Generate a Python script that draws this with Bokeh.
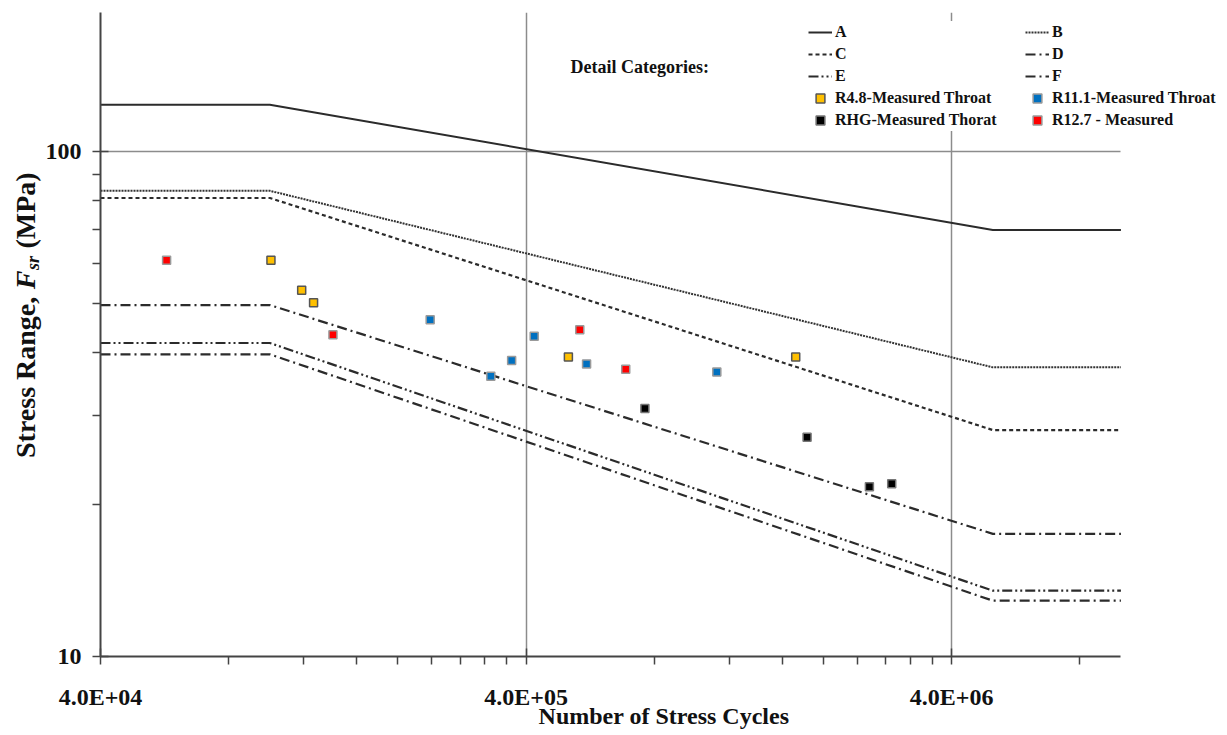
import math
from bokeh.plotting import figure
from bokeh.layouts import row
from bokeh.models import (Range1d, FixedTicker, CustomJSTickFormatter, Legend, LegendItem, Label)
from bokeh.core.properties import value
from bokeh.embed import file_html
from bokeh.resources import INLINE

# ---- data ----
curve_cycles = [4.0e4, 1.0e5, 5.0e6, 1.0e7]
cat_A = [124.0, 124.0, 70.0, 70.0]
cat_B = [83.7, 83.7, 37.4, 37.4]
cat_C = [81.0, 81.0, 28.1, 28.1]
cat_D = [49.7, 49.7, 17.5, 17.5]
cat_E = [41.8, 41.8, 13.5, 13.5]
cat_F = [39.7, 39.7, 12.9, 12.9]

r48_cycles = [1.006e5, 1.188e5, 1.267e5, 5.03e5, 1.721e6]
r48_stress = [61.0, 53.2, 50.2, 39.2, 39.2]

r111_cycles = [2.381e5, 3.306e5, 3.70e5, 4.18e5, 5.55e5, 1.123e6]
r111_stress = [46.5, 35.9, 38.6, 43.1, 38.0, 36.6]

rhg_cycles = [7.61e5, 1.83e6, 2.564e6, 2.893e6]
rhg_stress = [31.0, 27.2, 21.7, 22.0]

r127_cycles = [5.72e4, 1.407e5, 5.35e5, 6.86e5]
r127_stress = [61.0, 43.4, 44.4, 37.1]

x_major_ticks = [4.0e4, 4.0e5, 4.0e6]
y_major_ticks = [10, 100]
x_grid_ticks = [4.0e5, 4.0e6]
y_grid_ticks = [100]
x_limits = (4.0e4, 1.0e7)      # extent of the x axis
x_view_end = 1.78e7            # frame runs on to the right, under the legend
y_limits = (10, 188.8)

x_minor_ticks = [b * k for b in x_major_ticks for k in range(2, 10) if b * k <= x_limits[1]]
y_minor_ticks = [10 * k for k in range(2, 10)]

FONT = "Liberation Serif"
INK = "#111111"

H = 735
TOP, BOTTOM = 12, 79
LAB_W = 42
p = figure(width=1227 - LAB_W, height=H, x_axis_type="log", y_axis_type="log",
           x_range=Range1d(x_limits[0], x_view_end), y_range=Range1d(*y_limits),
           output_backend="svg", toolbar_location=None,
           min_border_left=96 - LAB_W, min_border_right=0, min_border_top=TOP, min_border_bottom=BOTTOM)
p.outline_line_color = None
p.background_fill_color = "white"

# grid
p.xgrid.ticker = FixedTicker(ticks=x_grid_ticks)
p.ygrid.ticker = FixedTicker(ticks=y_grid_ticks)
for g in (p.xgrid, p.ygrid):
    g.grid_line_color = "#8c8c8c"
    g.grid_line_width = 1.5
try:
    p.ygrid.cross_bounds = x_limits
except Exception:
    p.ygrid.grid_line_color = None
    p.segment(x0=[x_limits[0]] * len(y_grid_ticks), y0=y_grid_ticks,
              x1=[x_limits[1]] * len(y_grid_ticks), y1=y_grid_ticks,
              line_color="#8c8c8c", line_width=1.5)

# axes
xa = p.xaxis[0]
ya = p.yaxis[0]
xa.bounds = x_limits
xa.ticker = FixedTicker(ticks=x_major_ticks, minor_ticks=x_minor_ticks)
ya.ticker = FixedTicker(ticks=y_major_ticks, minor_ticks=y_minor_ticks)
xa.formatter = CustomJSTickFormatter(code="return tick.toExponential(1).replace('e+', 'E+0');")
ya.formatter = CustomJSTickFormatter(code="return tick.toFixed(0);")
for ax in (xa, ya):
    ax.axis_line_color = "#444444"
    ax.axis_line_width = 2
    ax.major_tick_line_color = "#444444"
    ax.minor_tick_line_color = "#444444"
    ax.major_tick_line_width = 1.5
    ax.minor_tick_line_width = 1.5
    ax.major_tick_in = 8
    ax.major_tick_out = 8
    ax.minor_tick_in = 0
    ax.minor_tick_out = 8
    ax.major_label_text_font = FONT
    ax.major_label_text_font_style = "bold"
    ax.major_label_text_font_size = "24px"
    ax.major_label_text_color = INK

xa.major_label_standoff = 19
xa.axis_label = "Number of Stress Cycles"
xa.axis_label_text_font = FONT
xa.axis_label_text_font_style = "bold"
xa.axis_label_text_font_size = "24px"
xa.axis_label_text_color = INK
xa.axis_label_standoff = -10
ya.major_label_standoff = 11

# curves
line_color = "#2b2b2b"
rA = p.line(curve_cycles, cat_A, line_color=line_color, line_width=2)
rB = p.line(curve_cycles, cat_B, line_color="#333333", line_width=2, line_dash="2 1")
rC = p.line(curve_cycles, cat_C, line_color=line_color, line_width=2.2, line_dash="4 3")
rD = p.line(curve_cycles, cat_D, line_color=line_color, line_width=2.2, line_dash="10 4 2 4")
rE = p.line(curve_cycles, cat_E, line_color=line_color, line_width=2.2, line_dash="10 3 2 3 2 3")
rF = p.line(curve_cycles, cat_F, line_color=line_color, line_width=2.2, line_dash="10 4 2 4")

# measured points
s48 = p.scatter(r48_cycles, r48_stress, marker="square", size=8, fill_color="#FFC000", line_color="#555555", line_width=1.5)
s111 = p.scatter(r111_cycles, r111_stress, marker="square", size=8, fill_color="#0070C0", line_color="#9a9a9a", line_width=1.5)
shg = p.scatter(rhg_cycles, rhg_stress, marker="square", size=8, fill_color="#000000", line_color="#777777", line_width=1.5)
s127 = p.scatter(r127_cycles, r127_stress, marker="square", size=8, fill_color="#FF0000", line_color="#9a9a9a", line_width=1.5)

legend = Legend(items=[
    LegendItem(label="A", renderers=[rA]),
    LegendItem(label="B", renderers=[rB]),
    LegendItem(label="C", renderers=[rC]),
    LegendItem(label="D", renderers=[rD]),
    LegendItem(label="E", renderers=[rE]),
    LegendItem(label="F", renderers=[rF]),
    LegendItem(label="R4.8-Measured Throat", renderers=[s48]),
    LegendItem(label="R11.1-Measured Throat", renderers=[s111]),
    LegendItem(label="RHG-Measured Thorat", renderers=[shg]),
    LegendItem(label="R12.7 - Measured", renderers=[s127]),
], orientation="horizontal", ncols=2, location=(708, 525))
legend.padding = 0
legend.margin = 0
legend.spacing = 0
legend.glyph_width = 24
legend.glyph_height = 22
legend.label_height = 22
legend.label_width = 190
legend.label_standoff = 3
legend.border_line_color = None
legend.background_fill_color = "white"
legend.background_fill_alpha = 1.0
legend.label_text_font = FONT
legend.label_text_font_style = "bold"
legend.label_text_font_size = "16px"
legend.label_text_color = INK
p.add_layout(legend)

p.add_layout(Label(x=470, y=590, x_units="screen", y_units="screen", text="Detail Categories:",
                   text_font=FONT, text_font_style="bold", text_font_size="18px",
                   text_color=INK, text_align="left", text_baseline="middle"))

# ---- y-axis title strip (rotated, with italic subscript) ----
# frame of this strip matches the main frame, so y here = page pixels counted from the bottom
lab = figure(width=LAB_W, height=H, x_range=Range1d(0, LAB_W), y_range=Range1d(BOTTOM, H - TOP),
             output_backend="svg", toolbar_location=None,
             x_axis_location=None, y_axis_location=None,
             min_border_left=0, min_border_right=0, min_border_top=TOP, min_border_bottom=BOTTOM)
lab.outline_line_color = None
lab.xgrid.visible = False
lab.ygrid.visible = False
ylab_parts = [
    ("Stress Range,", 277.5, "bold", "28px", 25),
    ("F", 446.3, "bold italic", "28px", 25),
    ("sr", 465.5, "bold italic", "18px", 32),
    ("(MPa)", 487.0, "bold", "28px", 25),
]
for txt, yy, style, size, xx in ylab_parts:
    lab.text(x=[xx], y=[yy], text=[txt], angle=math.pi / 2,
             text_font=value(FONT), text_font_style=style, text_font_size=size,
             text_color=INK, text_align="left", text_baseline="middle")

layout = row(lab, p)
open("out.html", "w").write(file_html(layout, INLINE))
